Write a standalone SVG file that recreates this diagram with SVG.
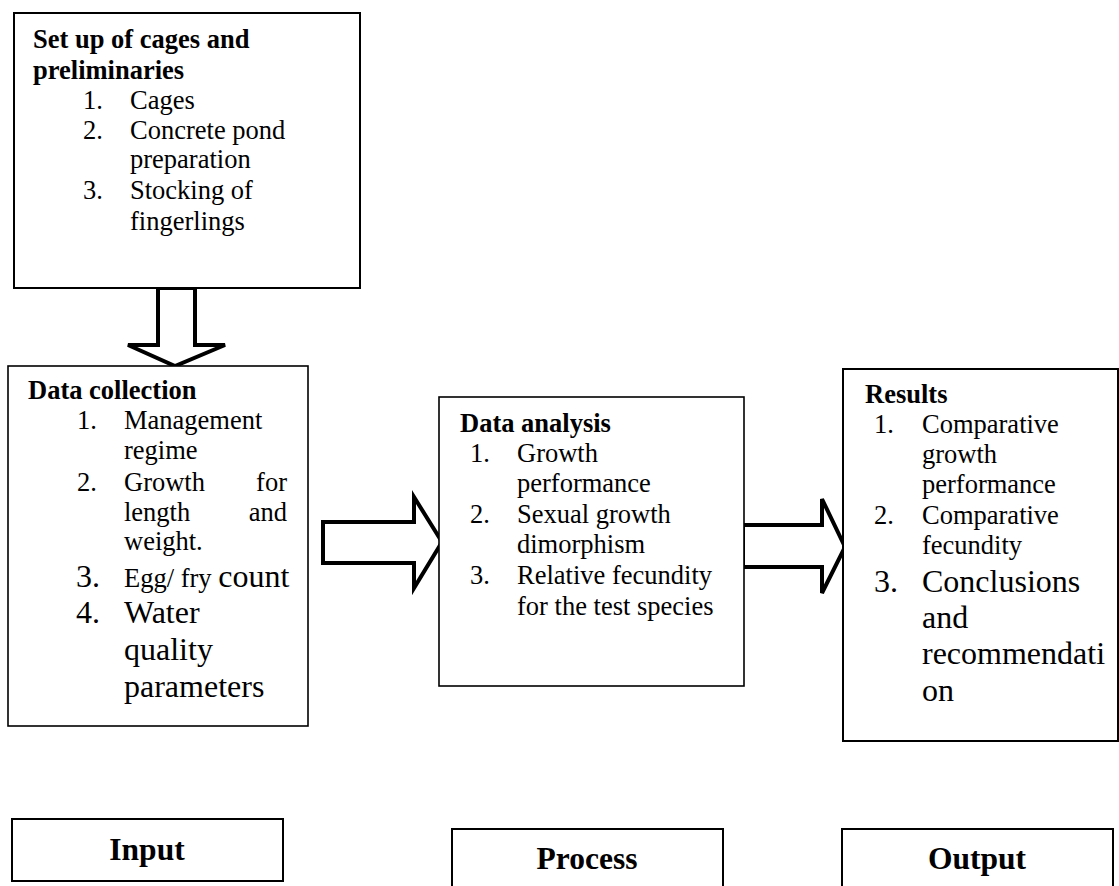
<svg xmlns="http://www.w3.org/2000/svg" width="1119" height="886" viewBox="0 0 1119 886">
<style>
  .box { fill: #fff; stroke: #000; stroke-width: 2; }
  .thin { stroke-width: 1.6; }
  .arrow { fill: #fff; stroke: #000; stroke-width: 4; stroke-linejoin: miter; }
  text { font-family: "Liberation Serif", "Times New Roman", serif; fill: #000; font-size: 26.5px; }
  .b { font-weight: bold; }
  .lg { font-size: 32px; }
  .lbl { font-weight: bold; font-size: 31.5px; text-anchor: middle; }
</style>
<rect width="1119" height="886" fill="#fff"/>

<g id="connectors">
  <polygon class="arrow" points="158,288 195,288 195,345 225,345 175,366 128,345 158,345"/>
  <polygon class="arrow" points="323,522 414,522 414,497 442,542 414,588 414,563 323,563"/>
  <polygon class="arrow" points="743,525 822,525 822,499 845,547 822,593 822,567 743,567"/>
</g>

<g id="setup">
  <rect class="box" x="14" y="13" width="346" height="275"/>
  <text class="b" x="33" y="48">Set up of cages and</text>
  <text class="b" x="33" y="79">preliminaries</text>
  <text x="83" y="109">1.</text><text x="130" y="109">Cages</text>
  <text x="83" y="139">2.</text><text x="130" y="139">Concrete pond</text>
  <text x="130" y="168">preparation</text>
  <text x="83" y="199">3.</text><text x="130" y="199">Stocking of</text>
  <text x="130" y="230">fingerlings</text>
</g>

<g id="data-collection">
  <rect class="box thin" x="8" y="366" width="300" height="360"/>
  <text class="b" x="28" y="399">Data collection</text>
  <text x="77" y="429">1.</text><text x="124" y="429">Management</text>
  <text x="124" y="459">regime</text>
  <text x="77" y="491">2.</text><text x="124" y="491">Growth</text><text x="287" y="491" text-anchor="end">for</text>
  <text x="124" y="521">length</text><text x="287" y="521" text-anchor="end">and</text>
  <text x="124" y="550">weight.</text>
  <text class="lg" x="76" y="587">3.</text><text x="124" y="587">Egg/ fry <tspan class="lg">count</tspan></text>
  <text class="lg" x="76" y="623">4.</text><text class="lg" x="124" y="623">Water</text>
  <text class="lg" x="124" y="660">quality</text>
  <text class="lg" x="124" y="697">parameters</text>
</g>

<g id="data-analysis">
  <rect class="box thin" x="439" y="397" width="305" height="289"/>
  <text class="b" x="460" y="432">Data analysis</text>
  <text x="470" y="462">1.</text><text x="517" y="462">Growth</text>
  <text x="517" y="492">performance</text>
  <text x="470" y="523">2.</text><text x="517" y="523">Sexual growth</text>
  <text x="517" y="553">dimorphism</text>
  <text x="470" y="584">3.</text><text x="517" y="584">Relative fecundity</text>
  <text x="517" y="615">for the test species</text>
</g>

<g id="results">
  <rect class="box" x="843" y="369" width="275" height="372"/>
  <text class="b" x="865" y="403">Results</text>
  <text x="874" y="433">1.</text><text x="922" y="433">Comparative</text>
  <text x="922" y="463">growth</text>
  <text x="922" y="493">performance</text>
  <text x="874" y="524">2.</text><text x="922" y="524">Comparative</text>
  <text x="922" y="554">fecundity</text>
  <text class="lg" x="874" y="592">3.</text><text class="lg" x="922" y="592">Conclusions</text>
  <text class="lg" x="922" y="628">and</text>
  <text class="lg" x="922" y="664">recommendati</text>
  <text class="lg" x="922" y="701">on</text>
</g>

<g id="input">
  <rect class="box" x="12" y="819" width="271" height="62"/>
  <text class="lbl" x="147" y="860">Input</text>
</g>

<g id="process">
  <rect class="box" x="452" y="829" width="271" height="70"/>
  <text class="lbl" x="587" y="869">Process</text>
</g>

<g id="output">
  <rect class="box" x="842" y="829" width="271" height="70"/>
  <text class="lbl" x="977" y="869">Output</text>
</g>
</svg>
